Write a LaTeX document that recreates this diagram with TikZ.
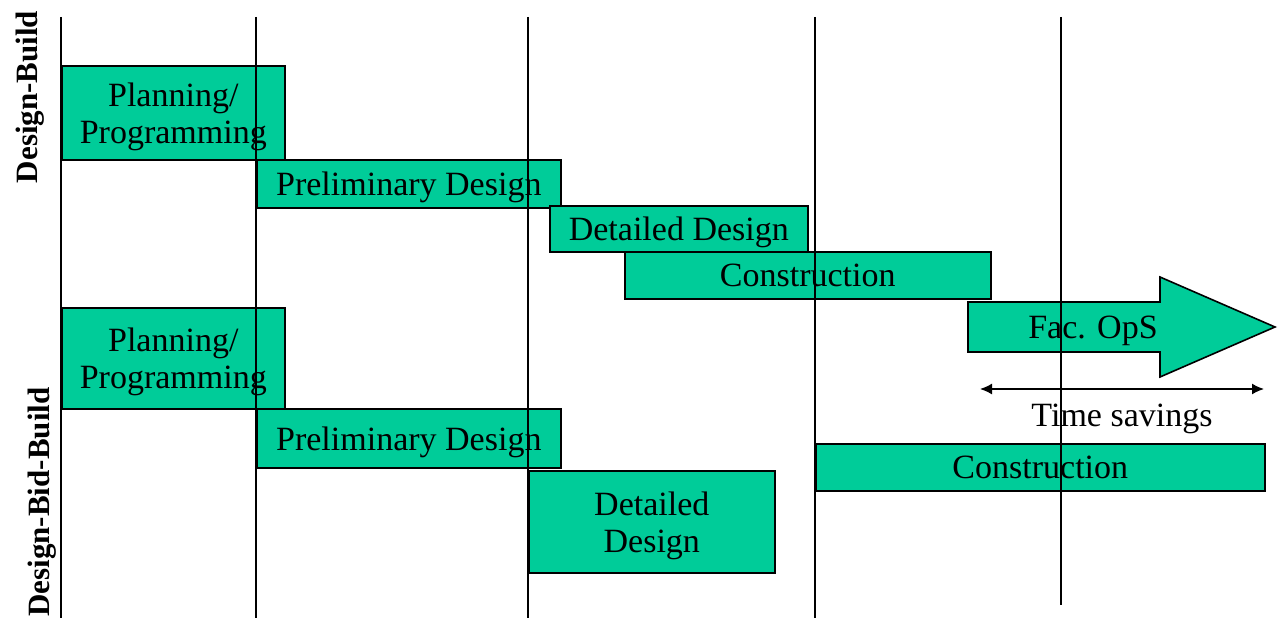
\documentclass[tikz,border=0pt]{standalone}
\usepackage{fontspec}
\setmainfont{Liberation Serif}
\usepackage{xcolor}
\usetikzlibrary{arrows,arrows.meta,calc,positioning}
\definecolor{phasegreen}{HTML}{00CC99}
\tikzset{
	phase/.style={draw=black, fill=phasegreen, line width=1.6pt, inner sep=0pt, anchor=north west, align=center, text depth=0pt, font=\fontsize{34}{37}\selectfont},
	grid/.style={line width=1.5pt},
	method/.style={rotate=90, font=\bfseries\fontsize{31}{31}\selectfont}
}

\begin{document}
\begin{tikzpicture}[x=1pt, y=-1pt]
	    \useasboundingbox (0,0) rectangle (1278,618);
	    \node[phase, minimum width=223pt, minimum height=94pt] (dbPlan) at (61,65) {Planning/\\Programming};
	    \node[phase, minimum width=304pt, minimum height=48pt] (dbPrelim) at (256,159) {Preliminary Design};
	    \node[phase, minimum width=258pt, minimum height=46pt] (dbDetail) at (549,205) {Detailed Design};
	    \node[phase, minimum width=366pt, minimum height=47pt] (dbBuild) at (624,251) {Construction};
	    \draw[phase] (968,302) -- (1160,302) -- (1160,277) -- (1275,327) -- (1160,377) -- (1160,352) -- (968,352) -- cycle;
	    \node[font=\fontsize{34}{37}\selectfont] (facOps) at (1093,331) {Fac. OpS};
	    \node[phase, minimum width=223pt, minimum height=101pt] (dbbPlan) at (61,307) {Planning/\\Programming};
	    \node[phase, minimum width=304pt, minimum height=59pt] (dbbPrelim) at (256,408) {Preliminary Design};
	    \node[phase, minimum width=246pt, minimum height=102pt] (dbbDetail) at (528,470) {Detailed\\Design};
	    \node[phase, minimum width=449pt, minimum height=47pt] (dbbBuild) at (815,443) {Construction};
	    \foreach \x in {61,256,528,815}
	        \draw[grid] (\x,17) -- (\x,618);
	    \draw[grid] (1061,17) -- (1061,605);
	    \coordinate (saveL) at (980,389);
	    \coordinate (saveR) at (1264,389);
	    \draw[line width=1.5pt, {Latex[length=12pt,width=11pt]}-{Latex[length=12pt,width=11pt]}] (saveL) -- (saveR);
	    \node[font=\fontsize{34}{37}\selectfont, below=11pt of $(saveL)!0.5!(saveR)$] (saveText) {Time savings};
	    \node[method] (dbLabel) at (30,97) {Design-Build};
	    \node[method] (dbbLabel) at (42,502) {Design-Bid-Build};
	\end{tikzpicture}
\end{document}
